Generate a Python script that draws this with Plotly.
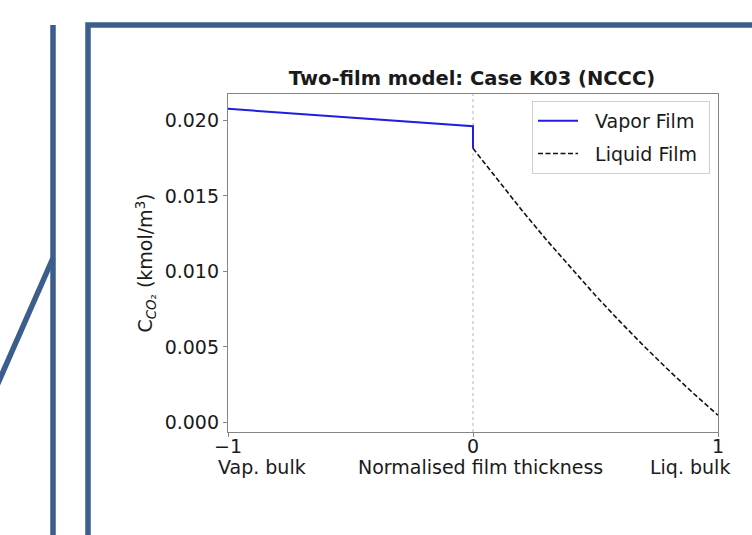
import plotly.graph_objects as go

# ---- data ----
vapor_x = [-1.0, 0.0, 0.0]
vapor_y = [0.02077, 0.01962, 0.01815]

liquid_x = [0.0, 0.1, 0.2, 0.3, 0.4, 0.5, 0.6, 0.7, 0.8, 0.9, 1.0]
liquid_y = [0.01815, 0.01606, 0.01404, 0.01209, 0.01022, 0.00841,
            0.00668, 0.00502, 0.00344, 0.00192, 0.00048]

x_tick_vals = [-1, 0, 1]
x_tick_text = ["\u22121", "0", "1"]
y_tick_vals = [0.000, 0.005, 0.010, 0.015, 0.020]

title_text = "<b>Two-film model: Case K03 (NCCC)</b>"
y_title = "C<sub><i>CO</i>\u2082</sub> (kmol/m<sup>3</sup>)"
x_label_parts = ["Vap. bulk", "Normalised film thickness", "Liq. bulk"]
series_names = ["Vapor Film", "Liquid Film"]

# ---- layout geometry (body margin removed by post_script) ----
W, H = 752, 535
PL, PR, PT, PB = 228, 718, 94, 432          # plot area in window pixels
ML, MT = PL, PT
MR = W - PR
MB = H - PB
PW, PH = PR - PL, PB - PT


def px(xpix):
    return (xpix - PL) / PW


def py(ypix):
    return (PB - ypix) / PH


FONT = "DejaVu Sans"
TXT = "#1a1a1a"
FRAME = "#3b5e8c"
AX = "#858585"
NB = "\u00a0"

fig = go.Figure()
fig.add_trace(go.Scatter(x=vapor_x, y=vapor_y, mode="lines",
                         name=NB * 2 + series_names[0] + NB, legendgroup="v",
                         line=dict(color="#1f1fe0", width=2)))
fig.add_trace(go.Scatter(x=liquid_x, y=liquid_y, mode="lines",
                         name=NB * 2 + series_names[1] + NB, legendgroup="l",
                         line=dict(color="#111111", width=1.6, dash="5px,2.5px")))

shapes = [
    # dotted interface line at x = 0
    dict(type="line", xref="x", yref="paper", x0=0, x1=0, y0=0, y1=1,
         line=dict(color="#b5b5b5", width=1, dash="dot"), layer="below"),
    # decorative frame around the chart
    dict(type="line", xref="paper", yref="paper", x0=px(53), x1=px(53),
         y0=py(25), y1=py(560), line=dict(color=FRAME, width=5.5)),
    dict(type="line", xref="paper", yref="paper", x0=px(53), x1=px(-12),
         y0=py(258), y1=py(406), line=dict(color=FRAME, width=5.5)),
    dict(type="path", xref="paper", yref="paper",
         path=f"M {px(88)} {py(560)} L {px(88)} {py(25)} L {px(780)} {py(25)}",
         line=dict(color=FRAME, width=5.5)),
]

annotations = []
for txt, xc in zip(x_label_parts, [262, 480, 690]):
    annotations.append(dict(text=txt, xref="paper", yref="paper", x=px(xc), y=py(467),
                            xanchor="center", yanchor="middle", showarrow=False,
                            font=dict(family=FONT, size=19, color=TXT)))

fig.update_layout(
    width=W, height=H,
    margin=dict(l=ML, r=MR, t=MT, b=MB),
    paper_bgcolor="white", plot_bgcolor="white",
    font=dict(family=FONT, size=19, color=TXT),
    title=dict(text=title_text, x=px(472), xref="paper", xanchor="center",
               y=1 - 78 / H, yref="container", yanchor="middle",
               font=dict(family=FONT, size=19.5, color=TXT)),
    showlegend=True,
    legend=dict(x=px(710), y=py(101), xanchor="right", yanchor="top",
                bgcolor="white", bordercolor="#d0d0d0", borderwidth=1,
                font=dict(family=FONT, size=19, color=TXT),
                itemwidth=40, tracegroupgap=5),
    shapes=shapes,
    annotations=annotations,
)

fig.update_xaxes(range=[-1, 1], tickvals=x_tick_vals, ticktext=x_tick_text,
                 showgrid=False, zeroline=False, showline=True, mirror=True,
                 linecolor=AX, linewidth=1.3, ticks="outside", ticklen=4,
                 tickcolor=AX, ticklabelstandoff=-7,
                 tickfont=dict(family=FONT, size=19, color=TXT))
fig.update_yaxes(range=[-0.00063, 0.02175], tickvals=y_tick_vals, tickformat=".3f",
                 showgrid=False, zeroline=False, showline=True, mirror=True,
                 linecolor=AX, linewidth=1.3, ticks="outside", ticklen=4,
                 tickcolor=AX, tickfont=dict(family=FONT, size=19, color=TXT),
                 title=dict(text=y_title, standoff=6,
                            font=dict(family=FONT, size=19, color=TXT)))

fig.write_html("out.html",
               config={"displayModeBar": False},
               post_script="document.body.style.margin='0px';"
                           "document.body.style.overflow='hidden';")
